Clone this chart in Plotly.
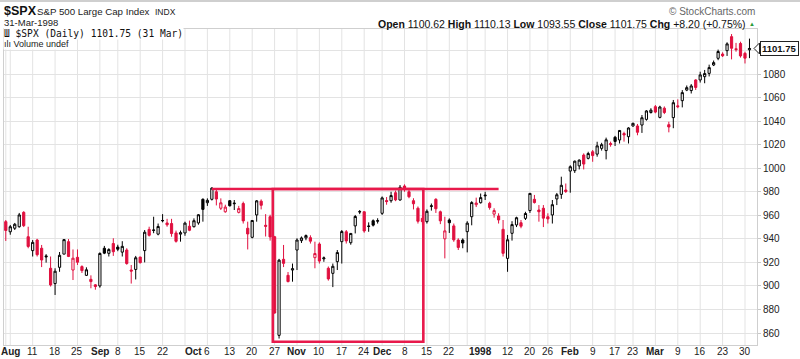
import numpy as np
import pandas as pd
import plotly.graph_objects as go

# ---------------- data ----------------
HOLIDAYS = ["1997-09-01", "1997-11-27", "1997-12-25", "1998-01-01", "1998-01-19", "1998-02-16"]
TRADING_DAYS = pd.bdate_range("1997-08-01", "1998-03-31", freq="C", holidays=HOLIDAYS)
PREV_CLOSE = 952.29  # close before the first bar (31 Jul 1997)

OPEN = [
    954.6, 946.0, 949.0, 950.3, 962.5, 941.8, 930.0, 939.0, 932.0, 925.5,
    915.0, 902.0, 915.8, 927.0, 937.6, 913.5, 924.3, 916.4, 909.0, 905.6,
    900.9, 900.0, 932.0, 927.7, 936.0, 933.0, 928.7, 930.5, 913.5, 914.0,
    924.5, 930.0, 948.0, 947.5, 944.0, 955.6, 953.5, 953.0, 945.0, 944.0,
    945.0, 950.7, 950.3, 953.5, 973.6, 970.7, 973.6, 980.0, 966.0, 963.0,
    972.4, 969.8, 962.5, 970.0, 949.0, 941.3, 960.3, 972.0, 951.5, 958.8,
    941.8, 858.0, 922.6, 909.0, 913.5, 930.5, 938.5, 940.8, 941.0, 924.0,
    935.6, 923.0, 915.0, 910.7, 920.6, 937.6, 946.0, 936.7, 951.0, 962.8,
    963.0, 950.5, 955.4, 955.0, 961.7, 972.5, 972.4, 979.2, 973.0, 984.9,
    980.0, 972.4, 966.0, 957.4, 954.6, 967.5, 973.6, 963.0, 940.0, 956.0,
    951.0, 939.0, 939.0, 946.1, 958.8, 969.0, 970.7, 976.5, 970.2, 961.0,
    959.4, 948.1, 923.4, 944.7, 951.8, 953.7, 957.4, 964.0, 973.6, 964.5,
    966.0, 958.8, 960.3, 973.9, 977.8, 981.5, 997.6, 997.9, 1002.0, 1011.2,
    1008.4, 1014.0, 1012.0, 1016.9, 1015.0, 1021.0, 1026.3, 1024.0, 1029.5, 1026.8,
    1035.9, 1035.9, 1036.7, 1041.5, 1047.3, 1052.3, 1043.2, 1051.0, 1037.0, 1043.0,
    1053.0, 1057.4, 1066.4, 1066.0, 1075.0, 1075.0, 1077.8, 1080.6, 1087.7, 1093.4,
    1097.0, 1099.9, 1111.8, 1101.5, 1106.0, 1097.6, 1100.62,
]
HIGH = [
    956.0, 951.8, 953.5, 962.0, 963.5, 950.3, 939.0, 940.0, 934.8, 927.0,
    925.0, 915.0, 928.8, 939.8, 939.8, 931.0, 931.0, 917.5, 915.8, 909.0,
    901.5, 928.5, 934.0, 932.0, 940.5, 935.0, 938.0, 932.0, 917.8, 925.5,
    924.8, 947.5, 950.3, 958.8, 953.0, 961.0, 957.0, 957.0, 947.0, 947.0,
    954.6, 955.5, 957.4, 961.0, 974.4, 974.4, 983.8, 981.5, 974.4, 969.0,
    973.0, 973.0, 968.0, 971.6, 954.6, 956.0, 973.0, 973.5, 961.0, 960.5,
    942.5, 923.0, 934.8, 911.8, 919.0, 940.5, 942.0, 943.7, 943.0, 937.6,
    937.0, 925.0, 916.5, 919.0, 930.5, 947.5, 947.5, 945.0, 960.3, 964.5,
    963.5, 954.0, 956.5, 957.5, 976.0, 975.5, 980.0, 981.0, 985.7, 986.3,
    981.5, 974.5, 967.5, 960.0, 965.0, 970.0, 974.5, 964.0, 958.8, 957.4,
    953.0, 940.5, 940.4, 955.0, 972.0, 975.0, 978.5, 980.0, 971.5, 966.0,
    961.7, 956.0, 943.3, 955.0, 958.8, 956.0, 963.0, 979.0, 977.3, 968.7,
    968.7, 961.7, 973.0, 979.0, 992.8, 987.0, 1002.5, 1006.5, 1007.5, 1012.6,
    1014.0, 1015.5, 1022.5, 1021.6, 1026.0, 1022.6, 1027.5, 1032.5, 1031.0, 1034.8,
    1038.7, 1037.6, 1045.2, 1049.4, 1051.0, 1053.7, 1053.1, 1052.5, 1039.5, 1058.0,
    1058.5, 1066.4, 1070.3, 1071.5, 1075.6, 1082.0, 1083.5, 1088.0, 1091.5, 1100.8,
    1098.5, 1107.0, 1114.0, 1106.5, 1107.5, 1099.0, 1110.13,
]
LOW = [
    938.2, 943.5, 947.5, 949.5, 950.0, 932.0, 925.0, 925.0, 916.0, 919.8,
    899.5, 892.3, 912.0, 927.0, 924.5, 905.0, 917.8, 911.0, 908.4, 898.0,
    896.8, 898.5, 927.0, 925.0, 925.5, 929.5, 925.0, 918.0, 902.0, 905.5,
    919.0, 920.0, 942.0, 944.8, 943.0, 954.0, 950.3, 941.8, 936.8, 937.6,
    942.6, 946.5, 949.7, 952.0, 954.6, 968.0, 972.6, 968.4, 964.5, 962.2,
    967.5, 964.5, 961.6, 953.0, 931.0, 940.4, 954.6, 965.0, 942.0, 938.5,
    876.5, 855.27, 916.0, 903.0, 903.6, 913.5, 936.5, 938.8, 936.0, 915.0,
    919.0, 920.5, 904.5, 899.0, 913.5, 919.0, 936.0, 935.0, 944.6, 961.0,
    945.2, 946.0, 950.5, 953.0, 960.3, 969.0, 970.7, 972.0, 972.5, 980.0,
    974.5, 965.0, 953.0, 952.0, 953.0, 964.0, 962.0, 952.5, 923.4, 945.0,
    937.5, 930.5, 932.0, 928.5, 951.5, 967.0, 970.0, 973.0, 964.8, 958.0,
    953.0, 925.0, 912.0, 938.5, 950.0, 949.0, 956.0, 962.0, 970.0, 954.6,
    950.0, 953.0, 953.0, 968.7, 974.0, 979.0, 979.2, 996.0, 999.0, 999.0,
    1007.5, 1005.5, 1009.8, 1015.0, 1007.5, 1018.3, 1018.9, 1021.0, 1022.6, 1021.0,
    1035.3, 1028.0, 1030.0, 1040.4, 1046.5, 1046.7, 1042.4, 1046.0, 1030.5, 1034.0,
    1051.0, 1051.7, 1065.5, 1063.5, 1066.5, 1072.8, 1072.2, 1078.0, 1086.8, 1091.8,
    1094.5, 1095.4, 1092.5, 1099.0, 1094.0, 1089.0, 1093.55,
]
CLOSE = [
    947.14, 950.30, 952.37, 960.32, 951.19, 933.54, 937.00, 926.53, 922.02, 924.77,
    900.81, 912.49, 926.01, 939.35, 925.05, 923.54, 920.16, 913.02, 913.70, 903.67,
    899.47, 927.58, 927.86, 930.87, 929.05, 931.20, 933.62, 919.03, 912.59, 923.91,
    919.77, 945.64, 943.00, 947.29, 950.51, 955.43, 951.93, 944.48, 937.91, 945.22,
    953.34, 947.28, 955.41, 960.46, 965.03, 972.69, 983.12, 973.84, 970.62, 966.98,
    968.10, 970.28, 965.72, 955.25, 944.16, 955.61, 972.28, 968.49, 950.69, 941.64,
    876.99, 921.85, 919.16, 903.68, 914.62, 938.99, 940.76, 942.76, 938.03, 927.51,
    921.13, 923.78, 905.96, 916.66, 928.35, 946.20, 938.23, 944.59, 958.98, 963.09,
    946.67, 950.82, 951.64, 955.40, 974.77, 971.68, 976.77, 973.10, 983.79, 982.37,
    975.78, 969.79, 954.94, 954.60, 963.39, 968.04, 965.54, 955.30, 946.78, 953.70,
    939.13, 932.70, 936.46, 953.35, 970.84, 970.43, 975.04, 977.07, 966.58, 964.00,
    956.05, 927.69, 939.21, 952.12, 957.94, 950.73, 961.51, 978.60, 970.81, 963.04,
    957.59, 956.95, 969.02, 977.46, 985.49, 980.28, 1001.27, 1006.00, 1006.90, 1003.54,
    1012.46, 1010.74, 1019.01, 1020.01, 1024.14, 1020.09, 1022.76, 1032.08, 1028.28, 1034.21,
    1038.14, 1030.56, 1042.90, 1048.67, 1049.34, 1047.70, 1052.02, 1047.33, 1035.05, 1055.69,
    1052.31, 1064.25, 1068.47, 1069.92, 1068.61, 1079.27, 1080.45, 1085.52, 1089.74, 1099.16,
    1095.55, 1105.65, 1101.93, 1100.80, 1095.44, 1093.55, 1101.75,
]

TICK_DATES = ["1997-08-01", "1997-08-11", "1997-08-18", "1997-08-25", "1997-09-02", "1997-09-08",
              "1997-09-15", "1997-09-22", "1997-10-01", "1997-10-06", "1997-10-13", "1997-10-20",
              "1997-10-27", "1997-11-03", "1997-11-10", "1997-11-17", "1997-11-24", "1997-12-01",
              "1997-12-08", "1997-12-15", "1997-12-22", "1998-01-02", "1998-01-12", "1998-01-20",
              "1998-01-26", "1998-02-02", "1998-02-09", "1998-02-17", "1998-02-23", "1998-03-02",
              "1998-03-09", "1998-03-16", "1998-03-23", "1998-03-30"]
TICK_TEXT = ["<b>Aug</b>", "11", "18", "25", "<b>Sep</b>", "8", "15", "22", "<b>Oct</b>", "6", "13",
             "20", "27", "<b>Nov</b>", "10", "17", "24", "<b>Dec</b>", "8", "15", "22", "<b>1998</b>",
             "12", "20", "26", "<b>Feb</b>", "9", "17", "23", "<b>Mar</b>", "9", "16", "23", "30"]
Y_TICKS = [860, 880, 900, 920, 940, 960, 980, 1000, 1020, 1040, 1060, 1080, 1100]
Y_TICK_TEXT = [str(v) for v in Y_TICKS[:-1]] + [""]

# user-drawn annotation (resistance line + consolidation box)
RESIST_LEVEL = 982.3
RESIST_FROM, RESIST_TO = "1997-10-07", "1998-01-08"
BOX_FROM, BOX_TO = "1997-10-24", "1997-12-12"
BOX_LOW = 852.5

LAST = dict(o=1100.62, h=1110.13, l=1093.55, c=1101.75, chg="+8.20", pct="+0.75%")

# ---------------- build ----------------
n = len(TRADING_DAYS)
assert len(OPEN) == len(HIGH) == len(LOW) == len(CLOSE) == n, (n, len(OPEN), len(HIGH), len(LOW), len(CLOSE))
pos = np.arange(n)
idx = {d.strftime("%Y-%m-%d"): i for i, d in enumerate(TRADING_DAYS)}

o, h, l, c = map(np.array, (OPEN, HIGH, LOW, CLOSE))
prev = np.concatenate([[PREV_CLOSE], c[:-1]])
up = c >= prev

RED = "#e0103f"
LINE_RED = "#e8194b"

fig = go.Figure()
for mask, col in ((up, "#000000"), (~up, RED)):
    fig.add_trace(go.Candlestick(
        x=pos[mask], open=o[mask], high=h[mask], low=l[mask], close=c[mask],
        increasing=dict(line=dict(color=col, width=1), fillcolor="white"),
        decreasing=dict(line=dict(color=col, width=1), fillcolor=col),
        whiskerwidth=0, showlegend=False, hoverinfo="skip"))

# weekly vertical grid lines (first trading day of each week)
weeks = pd.Series(pos, index=TRADING_DAYS).groupby(TRADING_DAYS.to_period("W")).min()
shapes = []
for k in weeks.values:
    shapes.append(dict(type="line", xref="x", yref="paper", x0=k, x1=k, y0=0, y1=1,
                       line=dict(color="#e3e3e3", width=1), layer="below"))

# red annotations
shapes.append(dict(type="line", xref="x", yref="y", x0=idx[RESIST_FROM], x1=idx[RESIST_TO],
                   y0=RESIST_LEVEL, y1=RESIST_LEVEL, line=dict(color=LINE_RED, width=2.6)))
shapes.append(dict(type="rect", xref="x", yref="y", x0=idx[BOX_FROM] + 0.6, x1=idx[BOX_TO] + 0.2,
                   y0=BOX_LOW, y1=RESIST_LEVEL, line=dict(color=LINE_RED, width=2.6)))

# geometry helpers (pixel -> paper)
W, H = 800, 359
ML, MR, MT, MB = 4, 43, 29, 14
PW, PH = W - ML - MR, H - MT - MB
Y_RANGE = [849.8, 1118.3]


def px(x):
    return (x - ML) / PW


def py(y):
    return (H - MB - y) / PH


# price tag pointer
yl = (LAST["c"] - Y_RANGE[0]) / (Y_RANGE[1] - Y_RANGE[0])
shapes.append(dict(type="path", xref="paper", yref="paper",
                   path=f"M {px(754)} {yl} L {px(759.5)} {yl + 5.5/PH} L {px(759.5)} {yl - 5.5/PH} Z",
                   fillcolor="white", line=dict(color="#222", width=1)))
# top page rule
shapes.append(dict(type="line", xref="paper", yref="paper", x0=px(0), x1=px(800), y0=py(1), y1=py(1),
                   line=dict(color="#cfcfcf", width=2)))

F = "Liberation Sans, Arial, sans-serif"
ann = [
    dict(text="<b>$SPX</b>", x=px(2), y=py(11), font=dict(size=12.5, family=F, color="#111")),
    dict(text="S&P 500 Large Cap Index", x=px(35), y=py(12), font=dict(size=9.7, family=F, color="#222")),
    dict(text="INDX", x=px(153), y=py(12.5), font=dict(size=8.5, family=F, color="#222")),
    dict(text="31-Mar-1998", x=px(2), y=py(23), font=dict(size=9.5, family=F, color="#222")),
    dict(text="© StockCharts.com", x=px(757), y=py(12), xanchor="right",
         font=dict(size=10, family=F, color="#666")),
    dict(text=(f"<b>Open</b> {LAST['o']:.2f} <b>High</b> {LAST['h']:.2f} <b>Low</b> {LAST['l']:.2f} "
               f"<b>Close</b> {LAST['c']:.2f} <b>Chg</b> {LAST['chg']} ({LAST['pct']})"),
         x=px(748), y=py(24), xanchor="right", font=dict(size=10.5, family=F, color="#111")),
    dict(text="▲", x=px(752), y=py(24.5), xanchor="center", font=dict(size=6, family=F, color="#2a9a3a")),
    dict(text=f"Ш $SPX (Daily) {LAST['c']:.2f} (31 Mar)", x=px(3), y=py(33.5), borderpad=0,
         bgcolor="white", font=dict(size=9.6, family="DejaVu Sans Mono, monospace", color="#111")),
    dict(text="ılı Volume undef", x=px(3), y=py(43.5), borderpad=0, bgcolor="white",
         font=dict(size=9, family=F, color="#222")),
    dict(text=f"<b>{LAST['c']:.2f}</b>", x=px(759.5), y=LAST["c"], yref="y", xanchor="left",
         bgcolor="white", bordercolor="#222", borderwidth=1, borderpad=1,
         font=dict(size=9.5, family=F, color="#111")),
]
# x-axis date labels placed on the axis scale (first one kept inside the page edge)
for j, (d, t) in enumerate(zip(TICK_DATES, TICK_TEXT)):
    if j == 0:
        ann.append(dict(text=t, x=px(0), y=py(352), xanchor="left", borderpad=0,
                        font=dict(size=10, family=F, color="#222")))
    else:
        ann.append(dict(text=t, x=idx[d], xref="x", y=py(352), xanchor="center", borderpad=0,
                        font=dict(size=10, family=F, color="#222")))

annotations = []
for a in ann:
    base = dict(xref="paper", yref="paper", showarrow=False, xanchor="left", yanchor="middle")
    base.update(a)
    annotations.append(base)

fig.update_layout(
    width=W, height=H, margin=dict(l=ML, r=MR, t=MT, b=MB, pad=0, autoexpand=False),
    paper_bgcolor="white", plot_bgcolor="white",
    shapes=shapes, annotations=annotations, showlegend=False,
    xaxis=dict(type="linear", range=[-0.4, 167.68], automargin=False, showticklabels=False,
               showgrid=False, zeroline=False, ticks="", rangeslider=dict(visible=False),
               showline=True, linecolor="#cfcfcf", linewidth=1, mirror=True, fixedrange=True),
    yaxis=dict(side="right", range=Y_RANGE, tickmode="array", tickvals=Y_TICKS, automargin=False,
               ticktext=Y_TICK_TEXT, showgrid=True, gridcolor="#e3e3e3", gridwidth=1,
               zeroline=False, ticks="outside", ticklen=3, tickcolor="#c8c8c8",
               tickfont=dict(size=10, family=F, color="#222"),
               showline=True, linecolor="#cfcfcf", linewidth=1, mirror=True, fixedrange=True),
)

fig.write_html("out.html", config={"displayModeBar": False, "staticPlot": True},
               post_script="document.body.style.margin='0';document.body.style.overflow='hidden';")
